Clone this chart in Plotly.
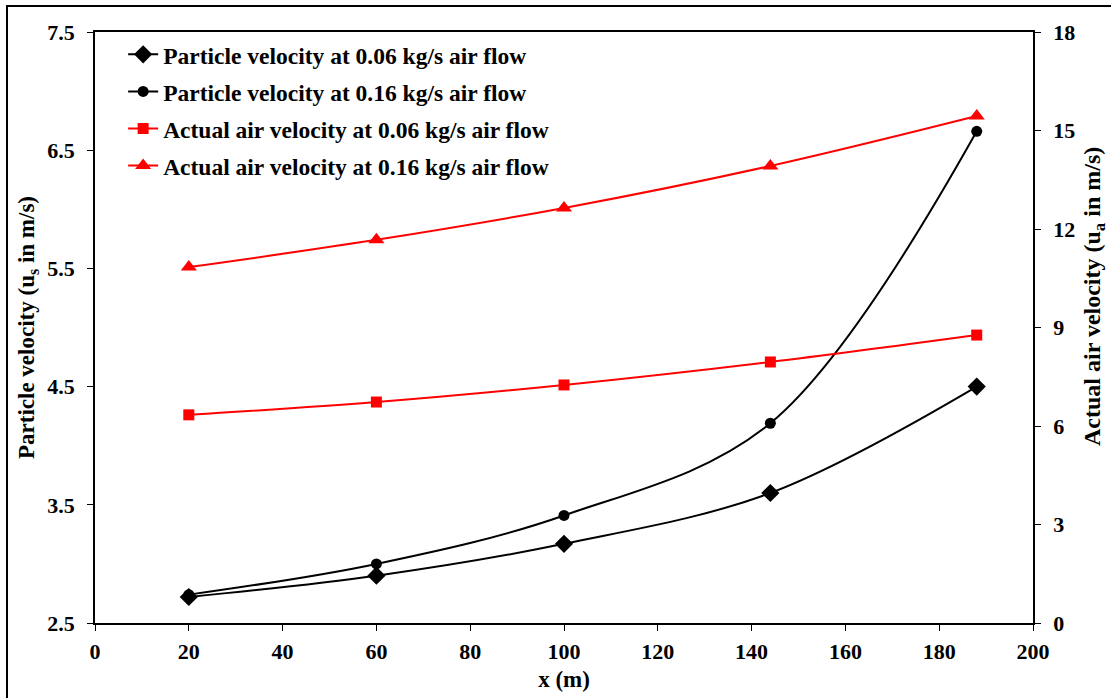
import plotly.graph_objects as go

x_vals = [20, 60, 100, 144, 188]
particle_006 = [2.72, 2.90, 3.17, 3.60, 4.50]
particle_016 = [2.74, 3.00, 3.41, 4.19, 6.66]
air_006 = [6.34, 6.73, 7.25, 7.95, 8.77]
air_016 = [10.84, 11.67, 12.64, 13.92, 15.44]

names = [
    "Particle velocity at 0.06 kg/s air flow",
    "Particle velocity at 0.16 kg/s air flow",
    "Actual air velocity at 0.06 kg/s air flow",
    "Actual air velocity at 0.16 kg/s air flow",
]

FONT = "Liberation Serif"
fig = go.Figure()

fig.add_trace(go.Scatter(x=x_vals, y=particle_006, name="<b>" + names[0] + "</b>", legendgroup="a",
                         mode="lines+markers", line=dict(color="black", width=2, shape="spline"),
                         marker=dict(symbol="diamond", size=14, color="black")))
fig.add_trace(go.Scatter(x=x_vals, y=particle_016, name="<b>" + names[1] + "</b>", legendgroup="b",
                         mode="lines+markers", line=dict(color="black", width=2, shape="spline"),
                         marker=dict(symbol="circle", size=11, color="black")))
fig.add_trace(go.Scatter(x=x_vals, y=air_006, name="<b>" + names[2] + "</b>", legendgroup="c", yaxis="y2",
                         mode="lines+markers", line=dict(color="#ff0000", width=2, shape="spline"),
                         marker=dict(symbol="square", size=11, color="#ff0000")))
fig.add_trace(go.Scatter(x=x_vals, y=air_016, name="<b>" + names[3] + "</b>", legendgroup="d", yaxis="y2",
                         mode="lines+markers", line=dict(color="#ff0000", width=2, shape="spline"),
                         marker=dict(symbol="triangle-up", size=14, color="#ff0000")))

tickfont = dict(family=FONT, size=22, color="black")

fig.update_layout(
    width=1111, height=698,
    margin=dict(l=95, r=78, t=32, b=75),
    paper_bgcolor="white", plot_bgcolor="white",
    font=dict(family=FONT, color="black"),
    showlegend=True,
    legend=dict(x=0.03, y=0.999, xanchor="left", yanchor="top",
                font=dict(family=FONT, size=23.5, color="black"),
                bgcolor="rgba(0,0,0,0)", tracegroupgap=3.5, itemwidth=30),
    xaxis=dict(range=[0, 200], dtick=20, tick0=0, showgrid=False, zeroline=False,
               showline=True, linecolor="black", linewidth=1.5, mirror=True, automargin=False,
               ticks="outside", ticklen=6, tickcolor="black", tickfont=tickfont,
               tickprefix="<b>", ticksuffix="</b>", ticklabelstandoff=2,
               title=dict(text="<b>x (m)</b>", font=dict(family=FONT, size=23, color="black"), standoff=8)),
    yaxis=dict(range=[2.5, 7.5], dtick=1, tick0=2.5, tickformat=".1f", showgrid=False,
               zeroline=False, showline=True, linecolor="black", linewidth=1.5, automargin=False,
               ticks="outside", ticklen=6, tickcolor="black", tickfont=tickfont,
               tickprefix="<b>", ticksuffix="</b>", ticklabelstandoff=8,
               title=dict(text="<b>Particle velocity (u<sub>s</sub> in m/s)</b>",
                          font=dict(family=FONT, size=23, color="black"), standoff=6)),
    yaxis2=dict(range=[0, 18], dtick=3, tick0=0, overlaying="y", side="right", showgrid=False,
                zeroline=False, showline=True, linecolor="black", linewidth=1.5, automargin=False,
                ticks="outside", ticklen=6, tickcolor="black", tickfont=tickfont,
                tickprefix="<b>", ticksuffix="</b>", ticklabelstandoff=8),
)

# right axis title (placed like the reference, slightly above centre)
fig.add_annotation(text="<b>Actual air velocity (u<sub>a</sub> in m/s)</b>",
                   xref="paper", yref="paper", x=(1094 - 95) / 938, y=(623 - 297) / 591,
                   xanchor="center", yanchor="middle", textangle=-90, showarrow=False,
                   font=dict(family=FONT, size=24, color="black"))

# outer frame of the picture
fig.add_shape(type="rect", xref="paper", yref="paper",
              x0=(7 - 95) / 938, x1=(1120 - 95) / 938,
              y0=-(710 - 623) / 591, y1=1 + (32 - 6) / 591,
              line=dict(color="black", width=2), fillcolor="rgba(0,0,0,0)", layer="below")

fig.write_html("out.html")
